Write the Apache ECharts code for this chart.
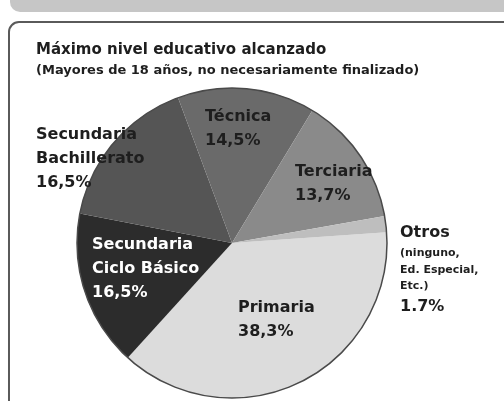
<!DOCTYPE html>
<html>
<head>
<meta charset="utf-8">
<script src="https://cdn.jsdelivr.net/npm/echarts@6/dist/echarts.min.js"></script>
<style>
  html, body { margin: 0; padding: 0; background: #ffffff; }
  #chart { width: 504px; height: 401px; }
</style>
</head>
<body>
<div id="chart"></div>
<script>
// Highest educational level reached (population over 18)
const categories = [
  'Primaria',
  'Secundaria\nCiclo Básico',
  'Secundaria\nBachillerato',
  'Técnica',
  'Terciaria',
  'Otros'
];
const shares = [38.3, 16.5, 16.5, 14.5, 13.7, 1.7];
const notes = ['', '', '', '', '', '(ninguno,\nEd. Especial,\nEtc.)'];
const decimalMarks = [',', ',', ',', ',', ',', '.'];

const sliceColors = ['#dcdcdc', '#2c2c2c', '#555555', '#6a6a6a', '#8a8a8a', '#bebebe'];
const labelColors = ['#1e1e1e', '#ffffff', '#1e1e1e', '#1e1e1e', '#1e1e1e', '#1e1e1e'];
// top-left corner of each label block
const labelSpots = [
  [238, 296], [92, 233], [36, 123], [205, 105], [295, 160], [400, 221]
];

const FONT = '"DejaVu Sans", sans-serif';

function fmtShare(v, i) {
  return v.toFixed(1).replace('.', decimalMarks[i]) + '%';
}

const pieData = categories.map((name, i) => ({
  name: name,
  value: shares[i],
  itemStyle: { color: sliceColors[i] },
  label: { color: labelColors[i] }
}));

const chart = echarts.init(document.getElementById('chart'), null, { renderer: 'canvas' });

chart.setOption({
  backgroundColor: '#ffffff',
  animation: false,
  graphic: [
    {
      type: 'rect', z: -10,
      shape: { x: 10, y: -20, width: 520, height: 32, r: [0, 0, 0, 10] },
      style: { fill: '#c6c6c6' }
    },
    {
      type: 'rect', z: -10,
      shape: { x: 9, y: 22, width: 520, height: 420, r: 10 },
      style: { fill: '#ffffff', stroke: '#5a5a5a', lineWidth: 2 }
    }
  ],
  title: {
    text: 'Máximo nivel educativo alcanzado',
    subtext: '(Mayores de 18 años, no necesariamente finalizado)',
    left: 36,
    top: 42,
    padding: 0,
    itemGap: 5,
    textStyle: { fontFamily: FONT, fontSize: 15, fontWeight: 'bold', color: '#1e1e1e', lineHeight: 16 },
    subtextStyle: { fontFamily: FONT, fontSize: 13, fontWeight: 'bold', color: '#1e1e1e', lineHeight: 15 }
  },
  series: [
    {
      type: 'pie',
      center: [232, 243],
      radius: [0, 155],
      startAngle: 4,
      clockwise: true,
      avoidLabelOverlap: false,
      itemStyle: { borderWidth: 0 },
      label: {
        show: true,
        position: 'inside',
        fontFamily: FONT,
        formatter: function (p) {
          const i = p.dataIndex;
          const nameLines = p.name.split('\n').map(s => '{b|' + s + '}').join('\n');
          const noteLines = notes[i] ? '\n' + notes[i].split('\n').map(s => '{s|' + s + '}').join('\n') : '';
          return nameLines + noteLines + '\n{v|' + fmtShare(p.value, i) + '}';
        },
        rich: {
          b: { fontFamily: FONT, fontSize: 16, fontWeight: 'bold', lineHeight: 24 },
          s: { fontFamily: FONT, fontSize: 11, fontWeight: 'bold', lineHeight: 16.5 },
          v: { fontFamily: FONT, fontSize: 16, fontWeight: 'bold', lineHeight: 24 }
        }
      },
      labelLine: { show: false },
      labelLayout: function (params) {
        const spot = labelSpots[params.dataIndex];
        return { x: spot[0], y: spot[1], align: 'left', verticalAlign: 'top' };
      },
      data: pieData
    },
    {
      // outer rim of the pie
      type: 'pie',
      silent: true,
      center: [232, 243],
      radius: [0, 155],
      label: { show: false },
      labelLine: { show: false },
      itemStyle: { color: 'rgba(0,0,0,0)', borderColor: '#4a4a4a', borderWidth: 1.5 },
      data: [{ value: 1, name: '' }]
    }
  ]
});
</script>
</body>
</html>
